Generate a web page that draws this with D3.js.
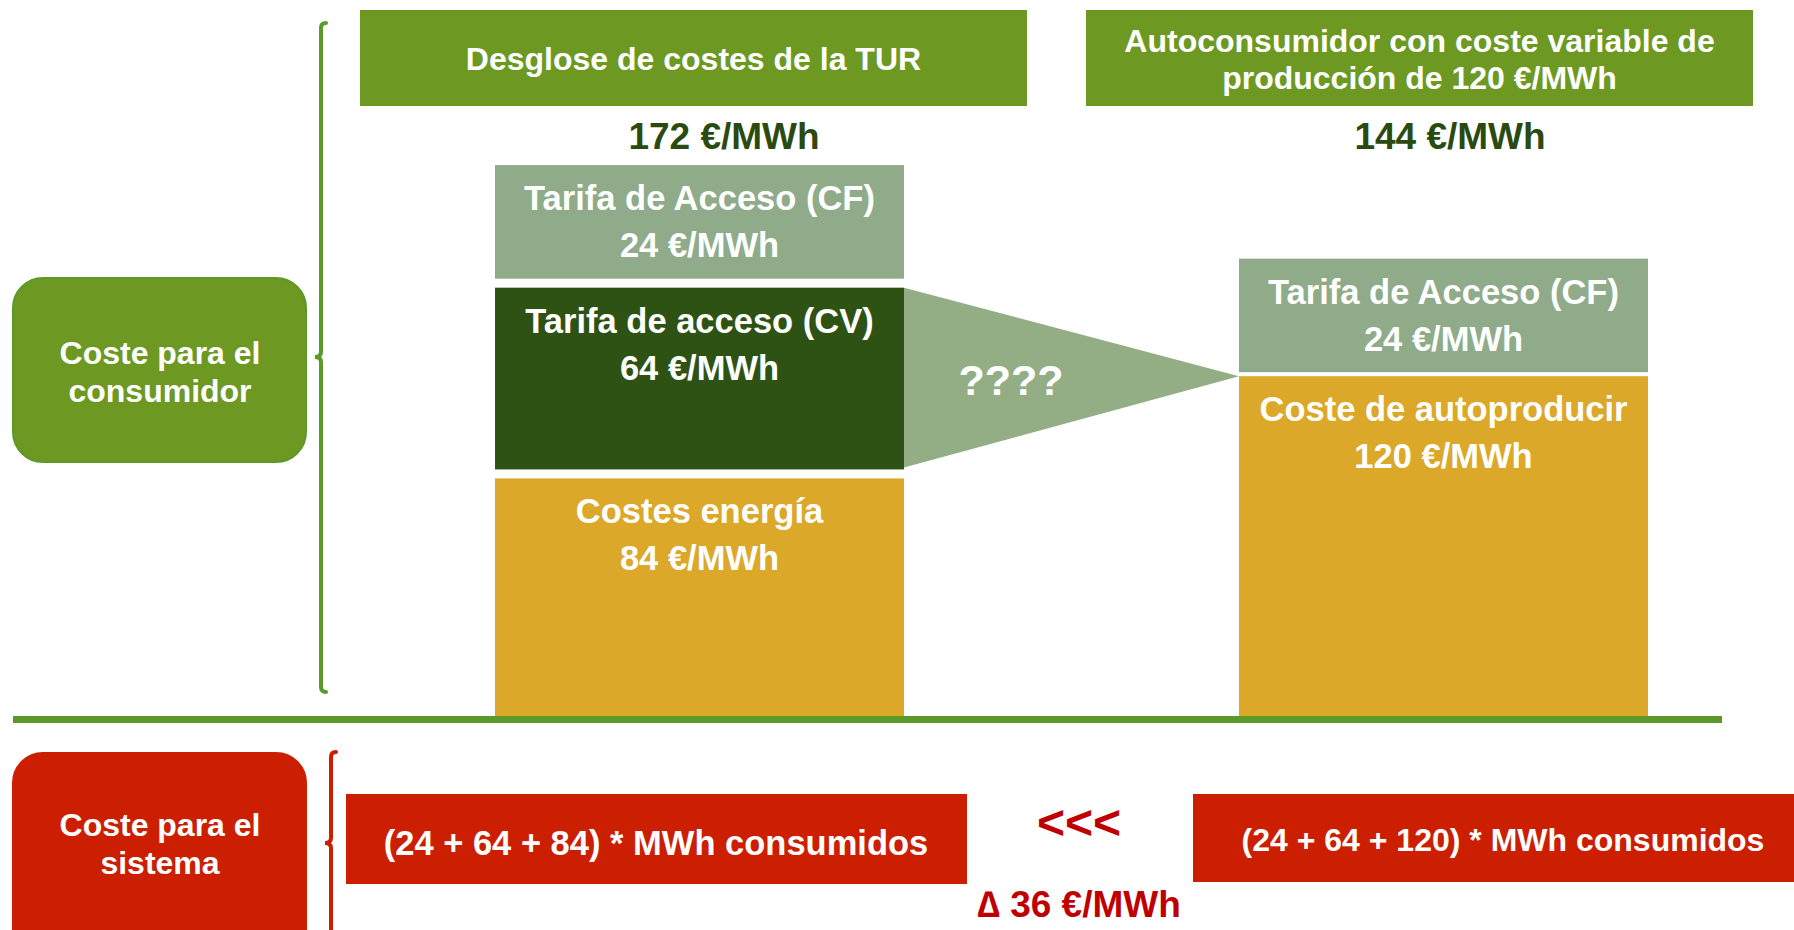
<!DOCTYPE html>
<html>
<head>
<meta charset="utf-8">
<script src="https://cdn.jsdelivr.net/npm/d3@7"></script>
<style>
  body { margin: 0; background: #fff; }
  text { font-family: "Liberation Sans", Arial, sans-serif; font-weight: bold; }
</style>
</head>
<body>
<svg width="1794" height="930"></svg>
<script>
// data
var stackNames = ["Desglose de costes de la TUR", "Autoconsumidor con coste variable de producción de 120 €/MWh"];
var headerLines = [["Desglose de costes de la TUR"], ["Autoconsumidor con coste variable de", "producción de 120 €/MWh"]];
var turLabels = ["Costes energía", "Tarifa de acceso (CV)", "Tarifa de Acceso (CF)"];
var turKinds = ["energy", "cv", "cf"];
var turValues = [84, 64, 24];
var autoLabels = ["Coste de autoproducir", "Tarifa de Acceso (CF)"];
var autoKinds = ["energy", "cf"];
var autoValues = [120, 24];
var unit = "€/MWh";
var sideLabels = [["Coste para el", "consumidor"], ["Coste para el", "sistema"]];
var questionMark = "????";

function main(){
    var svg = d3.select("svg");
    var colors = {energy: "#dba829", cv: "#2e5213", cf: "#8fab8a"};
    var green = "#6d9923", lineGreen = "#5b9a29", red = "#cc1e00", darkRed = "#c00000";
    var baseY = 717, minShown = 40;

    var xScale = d3.scalePoint().domain(stackNames).range([699.5, 1443.5]);
    var barW = 409;
    var yScale = d3.scaleLinear().domain([0, 200]).range([baseY, baseY - 200 * 2.84]);

    var stacks = [
        {name: stackNames[0], labels: turLabels, kinds: turKinds, values: turValues, gap: 9},
        {name: stackNames[1], labels: autoLabels, kinds: autoKinds, values: autoValues, gap: 4}
    ];

    // build segment rects
    stacks.forEach(function(s){
        var cursor = baseY;
        s.segs = s.values.map(function(v, i){
            var h = yScale(0) - yScale(Math.max(v, minShown));
            var seg = {label: s.labels[i], kind: s.kinds[i], value: v, x: xScale(s.name) - barW / 2, y: cursor - h, h: h};
            cursor = seg.y - s.gap;
            return seg;
        });
        s.total = d3.sum(s.values);
    });

    // headers
    var headerX = [360, 1086], headerW = 667;
    var hdr = svg.selectAll(".hdr").data(stacks).enter().append("g").attr("class", "hdr");
    hdr.append("rect")
        .attr("x", function(d, i){ return headerX[i]; })
        .attr("y", 10).attr("width", headerW).attr("height", 96)
        .attr("fill", green);
    hdr.each(function(d, i){
        var lines = headerLines[i];
        var g = d3.select(this);
        g.selectAll("text").data(lines).enter().append("text")
            .attr("x", headerX[i] + headerW / 2)
            .attr("y", function(l, j){ return lines.length == 1 ? 59 : 41 + j * 37; })
            .attr("text-anchor", "middle").attr("dominant-baseline", "central")
            .attr("fill", "#fff").attr("font-size", 32)
            .text(function(l){ return l; });
    });

    // totals
    var totalX = [724, 1450];
    svg.selectAll(".total").data(stacks).enter().append("text")
        .attr("class", "total")
        .attr("x", function(d, i){ return totalX[i]; })
        .attr("y", 136)
        .attr("text-anchor", "middle").attr("dominant-baseline", "central")
        .attr("fill", "#2b4a12").attr("font-size", 37)
        .text(function(d){ return d.total + " " + unit; });

    // triangle between TUR CV and the right bar
    var cv = stacks[0].segs[1], auto = stacks[1].segs[0];
    svg.append("path")
        .attr("d", d3.line()([[cv.x + barW, cv.y], [cv.x + barW, cv.y + cv.h - 2], [auto.x, auto.y]]) + "Z")
        .attr("fill", "#93ad84");
    svg.append("text")
        .attr("x", 1011).attr("y", 380)
        .attr("text-anchor", "middle").attr("dominant-baseline", "central")
        .attr("fill", "#fff").attr("font-size", 43)
        .text(questionMark);

    // bars
    stacks.forEach(function(s){
        var g = svg.append("g");
        g.selectAll("rect").data(s.segs).enter().append("rect")
            .attr("x", function(d){ return d.x; })
            .attr("y", function(d){ return d.y; })
            .attr("width", barW)
            .attr("height", function(d){ return d.h; })
            .attr("fill", function(d){ return colors[d.kind]; });
        g.selectAll(".l1").data(s.segs).enter().append("text")
            .attr("x", function(d){ return d.x + barW / 2; })
            .attr("y", function(d){ return d.y + 33; })
            .attr("text-anchor", "middle").attr("dominant-baseline", "central")
            .attr("fill", "#fff").attr("font-size", 34.5)
            .text(function(d){ return d.label; });
        g.selectAll(".l2").data(s.segs).enter().append("text")
            .attr("x", function(d){ return d.x + barW / 2; })
            .attr("y", function(d){ return d.y + 80; })
            .attr("text-anchor", "middle").attr("dominant-baseline", "central")
            .attr("fill", "#fff").attr("font-size", 34.5)
            .text(function(d){ return d.value + " " + unit; });
    });

    // baseline
    svg.append("rect").attr("x", 13).attr("y", baseY - 1).attr("width", 1709).attr("height", 7).attr("fill", lineGreen);

    // side boxes
    var sideBoxes = [{y: 278, h: 184, fill: green, stroke: lineGreen, ty: [353, 391]},
                     {y: 753, h: 210, fill: red, stroke: red, ty: [825, 863]}];
    sideBoxes.forEach(function(b, i){
        svg.append("rect").attr("x", 13).attr("y", b.y).attr("width", 293).attr("height", b.h)
            .attr("rx", 30).attr("fill", b.fill).attr("stroke", b.stroke).attr("stroke-width", 2);
        svg.selectAll(null).data(sideLabels[i]).enter().append("text")
            .attr("x", 160).attr("y", function(l, j){ return b.ty[j]; })
            .attr("text-anchor", "middle").attr("dominant-baseline", "central")
            .attr("fill", "#fff").attr("font-size", 32)
            .text(function(l){ return l; });
    });

    // brackets
    function bracket(x, top, mid, bottom, color, curlBottom){
        var p = d3.path();
        p.moveTo(x + 5, top);
        p.quadraticCurveTo(x, top, x, top + 5);
        p.lineTo(x, mid - 5);
        p.quadraticCurveTo(x, mid, x - 6, mid);
        p.quadraticCurveTo(x, mid, x, mid + 5);
        if (curlBottom) {
            p.lineTo(x, bottom - 5);
            p.quadraticCurveTo(x, bottom, x + 5, bottom);
        } else {
            p.lineTo(x, bottom);
        }
        svg.append("path").attr("d", p.toString()).attr("fill", "none")
            .attr("stroke", color).attr("stroke-width", 4).attr("stroke-linecap", "round");
    }
    bracket(321, 23, 357, 692, lineGreen, true);
    bracket(331, 752, 843, 935, red, false);

    // system cost boxes
    var formulas = [
        "(" + turValues.slice().reverse().join(" + ") + ") * MWh consumidos",
        "(" + [turValues[2], turValues[1], autoValues[0]].join(" + ") + ") * MWh consumidos"
    ];
    var sysBoxes = [{x: 346, y: 794, w: 621, h: 90, tx: 656, ty: 843, fs: 34.5},
                    {x: 1193, y: 794, w: 601, h: 88, tx: 1503, ty: 840, fs: 32}];
    sysBoxes.forEach(function(b, i){
        svg.append("rect").attr("x", b.x).attr("y", b.y).attr("width", b.w).attr("height", b.h).attr("fill", red);
        svg.append("text").attr("x", b.tx).attr("y", b.ty)
            .attr("text-anchor", "middle").attr("dominant-baseline", "central")
            .attr("fill", "#fff").attr("font-size", b.fs)
            .text(formulas[i]);
    });

    var delta = (turValues[2] + turValues[1] + autoValues[0]) - d3.sum(turValues);
    svg.append("text").attr("x", 1079).attr("y", 822)
        .attr("text-anchor", "middle").attr("dominant-baseline", "central")
        .attr("fill", darkRed).attr("font-size", 48).text("<<<");
    svg.append("text").attr("x", 1079).attr("y", 904)
        .attr("text-anchor", "middle").attr("dominant-baseline", "central")
        .attr("fill", darkRed).attr("font-size", 37).text("∆ " + delta + " " + unit);
}
main();
</script>
</body>
</html>
